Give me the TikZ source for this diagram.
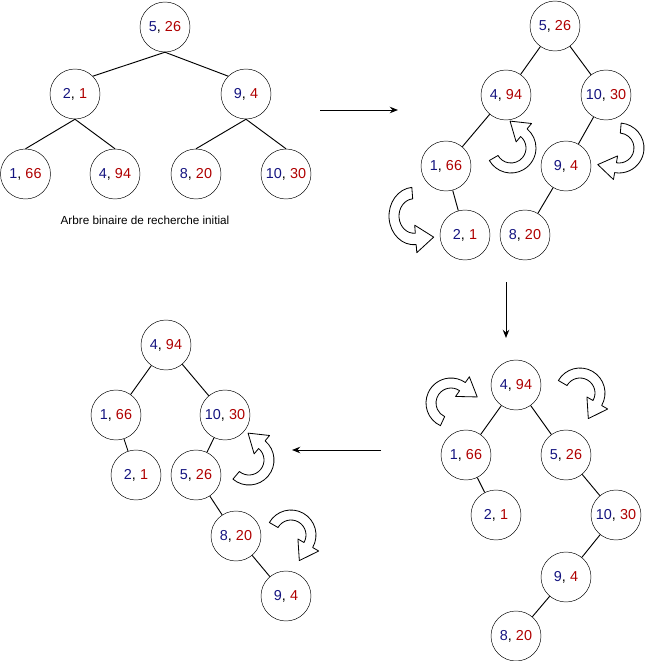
\documentclass[tikz,border=0pt]{standalone}
\usepackage{fontspec}
\setmainfont{Liberation Sans}
\usepackage{xcolor}
\usetikzlibrary{calc, positioning, arrows.meta}
\definecolor{keyblue}{RGB}{20,20,128}
\definecolor{valred}{RGB}{175,0,0}
\newcommand{\kv}[2]{\textcolor{keyblue}{#1}, \textcolor{valred}{#2}}
\tikzset{
	line width = .8pt,
	>={Stealth[length=7pt,width=5.5pt]},
	tree node/.style={
		draw,
		circle,
		minimum size=1.5cm,
		inner sep=0pt,
		font=\fontsize{12.3}{14}\selectfont
	},
	branch/.style={
		line width=.8pt
	},
	stage/.style={
		->,
		line width=.8pt
	},
	rotation/.style={
		draw,
		fill=white,
		line width=.7pt,
		line join=round
	}
}
% hollow curved arrow: centre, start angle, end angle, extra options
\newcommand{\turnarrow}[4]{%
	\begin{scope}[shift={#1}, #4]
		\pgfmathsetmacro{\tdir}{sign(#3-#2)}
		\pgfmathsetmacro{\tipx}{20*cos(#3)+18*cos(#3+\tdir*90)}
		\pgfmathsetmacro{\tipy}{20*sin(#3)+18*sin(#3+\tdir*90)}
		\draw[rotation] (#2:25) arc[start angle=#2, end angle=#3, radius=25]
			-- (#3:32) -- (\tipx,\tipy) -- (#3:8) -- (#3:15)
			arc[start angle=#3, end angle=#2, radius=15] -- cycle;
	\end{scope}}

\begin{document}
\begin{tikzpicture}[x=0.03cm, y=0.03cm]
\useasboundingbox (0,0) rectangle (652,-661);

% ---
% Initial tree
% ---
\node[tree node] (a5) at (165,-27) {\kv{5}{26}};
\node[tree node] (a2) at (75,-94) {\kv{2}{1}};
\node[tree node] (a9) at (246,-94) {\kv{9}{4}};
\node[tree node] (a1) at (25.5,-174) {\kv{1}{66}};
\node[tree node] (a4) at (115,-174) {\kv{4}{94}};
\node[tree node] (a8) at (196,-174) {\kv{8}{20}};
\node[tree node] (a10) at (286,-174) {\kv{10}{30}};
\node[font=\fontsize{10}{12}\selectfont] (caption) at (145,-220) {Arbre binaire de recherche initial};

\draw[branch] (a5.south) -- (a2.north east);
\draw[branch] (a5.south) -- (a9.north west);
\foreach \p/\c in {a2/a1, a2/a4, a9/a8, a9/a10} {
	\draw[branch] (\p.south) -- (\c.north);
}

% ---
% Second tree
% ---
\node[tree node] (b5) at (555,-26) {\kv{5}{26}};
\node[tree node] (b4) at (506,-95) {\kv{4}{94}};
\node[tree node] (b10) at (606,-95) {\kv{10}{30}};
\node[tree node] (b1) at (446,-166) {\kv{1}{66}};
\node[tree node] (b9) at (566,-166) {\kv{9}{4}};
\node[tree node] (b2) at (465,-235) {\kv{2}{1}};
\node[tree node] (b8) at (525,-235) {\kv{8}{20}};

\foreach \p/\c in {b5/b4, b5/b10, b4/b1, b10/b9, b1/b2, b9/b8} {
	\draw[branch] (\p) -- (\c);
}
\turnarrow{(511,-148)}{210}{410}{}
\turnarrow{(619,-148)}{85}{-100}{}
\turnarrow{(414,-216)}{95}{275}{yscale=1.15}

% ---
% Third tree
% ---
\node[tree node] (c4) at (516,-385) {\kv{4}{94}};
\node[tree node] (c1) at (466,-455) {\kv{1}{66}};
\node[tree node] (c5) at (566,-455) {\kv{5}{26}};
\node[tree node] (c2) at (496,-515) {\kv{2}{1}};
\node[tree node] (c10) at (616,-515) {\kv{10}{30}};
\node[tree node] (c9) at (566,-577) {\kv{9}{4}};
\node[tree node] (c8) at (516,-636) {\kv{8}{20}};

\foreach \p/\c in {c4/c1, c4/c5, c1/c2, c5/c10, c10/c9, c9/c8} {
	\draw[branch] (\p) -- (\c);
}
\turnarrow{(451,-403)}{245}{55}{}
\turnarrow{(580,-393)}{150}{-30}{}

% ---
% Last tree
% ---
\node[tree node] (d4) at (166,-345) {\kv{4}{94}};
\node[tree node] (d1) at (116,-415) {\kv{1}{66}};
\node[tree node] (d10) at (225,-415) {\kv{10}{30}};
\node[tree node] (d2) at (136,-475) {\kv{2}{1}};
\node[tree node] (d5) at (196,-475) {\kv{5}{26}};
\node[tree node] (d8) at (236,-536) {\kv{8}{20}};
\node[tree node] (d9) at (286,-596) {\kv{9}{4}};

\foreach \p/\c in {d4/d1, d4/d10, d1/d2, d10/d5, d5/d8, d8/d9} {
	\draw[branch] (\p) -- (\c);
}
\turnarrow{(249,-460)}{230}{410}{}
\turnarrow{(291,-535)}{150}{-30}{}

% ---
% Steps
% ---
\coordinate (s1) at (320,-110);
\coordinate (e1) at (398,-110);
\coordinate (s2) at (506,-282);
\coordinate (e2) at (506,-338);
\coordinate (s3) at (381,-450);
\coordinate (e3) at (292,-450);
\foreach \i in {1,2,3} {
	\draw[stage] (s\i) -- (e\i);
}
\end{tikzpicture}
\end{document}
